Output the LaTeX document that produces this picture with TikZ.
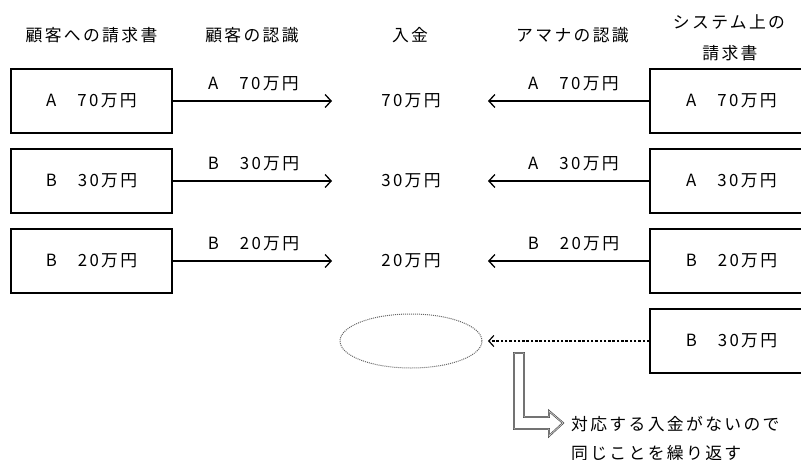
\documentclass[tikz,border=0pt]{standalone}
\usepackage{fontspec}
\setmainfont{Noto Sans CJK JP}[LetterSpace=14]
\usetikzlibrary{arrows.meta,shapes.geometric}
\newcommand{\amt}[2]{#1\hspace{21pt}#2}
\tikzset{
  txt/.style={inner sep=0pt, font=\fontsize{16.8}{18}\selectfont},
  box/.style={draw, line width=1.3pt, minimum height=64pt, inner sep=0pt, font=\fontsize{16.8}{18}\selectfont},
  lbox/.style={box, minimum width=161pt},
  rbox/.style={box, minimum width=163pt},
  arr/.style={line width=1.3pt, -{Straight Barb[length=6pt,width=13pt,line width=1.3pt]}},
  darr/.style={line width=1.2pt, dash pattern=on 2.5pt off 1.8pt, -{Straight Barb[length=5pt,width=11pt,line width=1.2pt]}},
  bent/.style={line width=0.6pt, draw=gray!50!black, double=gray!35, double distance=0.7pt, line join=miter},
}
\begin{document}
\begin{tikzpicture}[x=1pt,y=-1pt]
\clip (0,0) rectangle (801,460);
\useasboundingbox (0,0) rectangle (801,460);
% headers
\node[txt] (h1) at (91.5,35) {顧客への請求書};
\node[txt] (h2) at (252,35) {顧客の認識};
\node[txt] (h3) at (410,35) {入金};
\node[txt] (h4) at (572.5,35) {アマナの認識};
\node[txt] (h5) at (729,22) {システム上の};
\node[txt] (h5b) at (730,53) {請求書};
% left boxes
\node[lbox] (l1) at (91.5,101) {\amt{A}{70万円}};
\node[lbox] (l2) at (91.5,181) {\amt{B}{30万円}};
\node[lbox] (l3) at (91.5,261) {\amt{B}{20万円}};
% right boxes
\node[rbox] (r1) at (731.5,101) {\amt{A}{70万円}};
\node[rbox] (r2) at (731.5,181) {\amt{A}{30万円}};
\node[rbox] (r3) at (731.5,261) {\amt{B}{20万円}};
\node[rbox] (r4) at (731.5,341) {\amt{B}{30万円}};
% middle amounts
\node[txt] (m1) at (411,101) {70万円};
\node[txt] (m2) at (411,181) {30万円};
\node[txt] (m3) at (411,261) {20万円};
\node[ellipse, draw=gray!80!black, densely dotted, line width=1pt, minimum width=142pt, minimum height=54pt, inner sep=0pt] (e) at (411,341) {};
% arrow end points
\coordinate (a1) at (332,101);
\coordinate (a2) at (332,181);
\coordinate (a3) at (332,261);
\coordinate (b1) at (488,101);
\coordinate (b2) at (488,181);
\coordinate (b3) at (488,261);
\coordinate (b4) at (488,341);
\draw[arr] (l1.east) -- (a1);
\draw[arr] (l2.east) -- (a2);
\draw[arr] (l3.east) -- (a3);
\draw[arr] (r1.west) -- (b1);
\draw[arr] (r2.west) -- (b2);
\draw[arr] (r3.west) -- (b3);
\draw[darr] (r4.west) -- (b4);
% arrow labels
\node[txt] (t1) at (253.5,84) {\amt{A}{70万円}};
\node[txt] (t2) at (253.5,164) {\amt{B}{30万円}};
\node[txt] (t3) at (253.5,244) {\amt{B}{20万円}};
\node[txt] (u1) at (573.5,84) {\amt{A}{70万円}};
\node[txt] (u2) at (573.5,164) {\amt{A}{30万円}};
\node[txt] (u3) at (573.5,244) {\amt{B}{20万円}};
% bent arrow
\draw[bent]
  (514,353) -- (524,353) -- (524,417) -- (549,417) -- (549,411) -- (563,423)
  -- (549,436) -- (549,429) -- (514,429) -- cycle;
\node[txt, anchor=west] (n1) at (571,424) {対応する入金がないので};
\node[txt, anchor=west] (n2) at (571,453) {同じことを繰り返す};
\end{tikzpicture}
\end{document}
